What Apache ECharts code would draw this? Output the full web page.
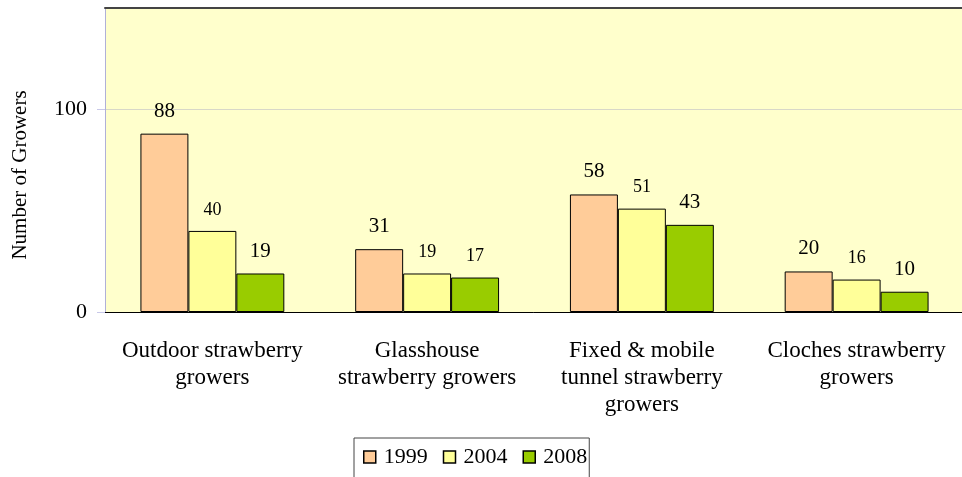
<!DOCTYPE html>
<html><head><meta charset="utf-8">
<script src="https://cdn.jsdelivr.net/npm/echarts@6/dist/echarts.min.js"></script>
<style>html,body{margin:0;padding:0;background:#fff}#c{width:962px;height:477px}</style>
</head><body><div id="c"></div>
<script>
const categories = ['Outdoor strawberry\ngrowers', 'Glasshouse\nstrawberry growers', 'Fixed & mobile\ntunnel strawberry\ngrowers', 'Cloches strawberry\ngrowers'];
const years = ['1999', '2004', '2008'];
const v1999 = [88, 31, 58, 20];
const v2004 = [40, 19, 51, 16];
const v2008 = [19, 17, 43, 10];
const yTicks = [0, 100];

const colors = ['#FFCC99', '#FFFF99', '#99CC00'];
const font = 'Liberation Serif, Times New Roman, serif';

function mkSeries(name, vals, si) {
  return {
    name: name, type: 'bar', barGap: '0%', barCategoryGap: '33%',
    itemStyle: {color: colors[si], borderColor: '#000', borderWidth: 1},
    label: {show: true, position: 'top', distance: 12, color: '#000', fontFamily: font, fontSize: 21},
    data: vals.map((v, i) => {
      const small = (si === 1) || (si === 2 && i === 1);
      return small ? {value: v, label: {fontSize: 18}} : v;
    })
  };
}

const chart = echarts.init(document.getElementById('c'));
chart.setOption({
  animation: false,
  textStyle: {fontFamily: font},
  grid: {left: 105, right: -2, top: 8, bottom: 165, show: true, backgroundColor: '#FFFFCC', borderWidth: 0, outerBoundsMode: 'none', containLabel: false},
  legend: {
    data: years, left: 354, top: 438,
    borderColor: '#444', borderWidth: 1, padding: [8, 2, 30, 9],
    itemWidth: 12, itemHeight: 12, itemGap: 15,
    icon: 'rect',
    itemStyle: {borderColor: '#000', borderWidth: 1.5},
    textStyle: {fontFamily: font, fontSize: 22, color: '#000', padding: [0, 0, 0, 3]}
  },
  xAxis: [{
    type: 'category', data: categories,
    axisLine: {lineStyle: {color: '#000', width: 1}},
    axisTick: {show: false},
    axisLabel: {fontFamily: font, fontSize: 23, color: '#000', lineHeight: 27, margin: 25, interval: 0}
  }, {
    type: 'category', data: categories, position: 'top',
    axisLine: {show: true, lineStyle: {color: '#444', width: 2}},
    axisTick: {show: false}, axisLabel: {show: false}
  }],
  yAxis: {
    type: 'value', min: 0, max: 150, interval: 100,
    name: 'Number of Growers', nameLocation: 'middle', nameGap: 74, nameRotate: 90,
    nameTextStyle: {fontFamily: font, fontSize: 21, color: '#000', padding: [0, 30, 0, 0]},
    axisLine: {show: true, lineStyle: {color: '#B0B0D8'}},
    axisTick: {show: true, length: 8, lineStyle: {color: '#C8C8E8'}, customValues: yTicks},
    axisLabel: {fontFamily: font, fontSize: 22, color: '#000', margin: 18, customValues: yTicks},
    splitLine: {lineStyle: {color: '#D8D8C8'}}
  },
  series: [mkSeries(years[0], v1999, 0), mkSeries(years[1], v2004, 1), mkSeries(years[2], v2008, 2)]
});
</script></body></html>
